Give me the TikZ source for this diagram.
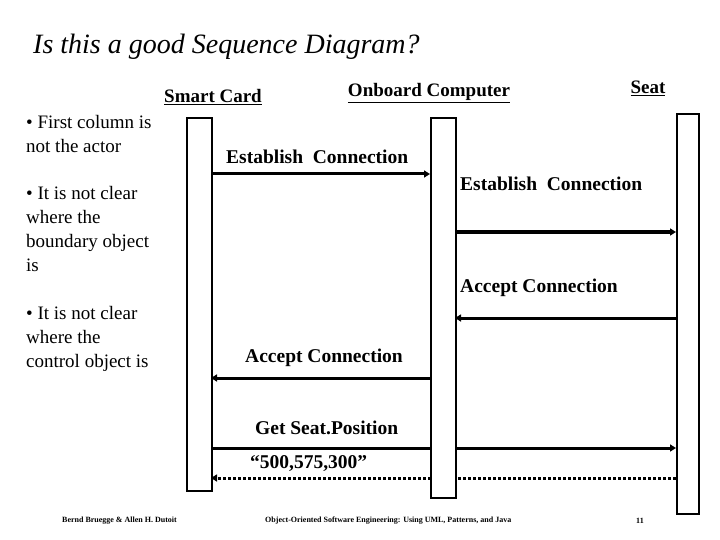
\documentclass[tikz,border=0pt]{standalone}
\usepackage{fontspec}
\setmainfont{Liberation Serif}
\usetikzlibrary{arrows.meta}
\begin{document}
\begin{tikzpicture}[x=1pt,y=-1pt,
  act/.style={draw,line width=1.8pt,fill=white},
  msg/.style={line width=3pt,-{Triangle[length=6pt,width=7pt]}},
  ret/.style={line width=3pt,dotted,-{Triangle[length=6pt,width=7pt]}},
  lab/.style={font=\fontsize{19.5}{22}\selectfont\bfseries,inner sep=0pt},
  head/.style={font=\fontsize{19}{22}\selectfont\bfseries,inner sep=0pt},
  side/.style={font=\fontsize{19}{24}\selectfont,align=left,anchor=north west,inner sep=0pt},
  foot/.style={font=\fontsize{8}{9}\selectfont\bfseries,inner sep=0pt}]
\useasboundingbox (0,0) rectangle (720,540);
\node[font=\fontsize{28}{32}\selectfont\itshape,anchor=west,inner sep=0pt] (title) at (33,47) {Is this a good Sequence Diagram?};
\node[head] (hs) at (213,97) {\underline{Smart Card}};
\node[head] (ho) at (429,93) {\underline{Onboard Computer}};
\node[head] (hseat) at (648,88) {\underline{Seat}};
\node[side] (t1) at (26,115) {\textbullet\ First column is\\not the actor};
\node[side] (t2) at (26,186) {\textbullet\ It is not clear\\where the\\boundary object\\is};
\node[side] (t3) at (26,306) {\textbullet\ It is not clear\\where the\\control object is};
\coordinate (a1) at (211,174); \coordinate (b1) at (430,174);
\coordinate (a2) at (455,232); \coordinate (b2) at (676,232);
\coordinate (a3) at (676,318); \coordinate (b3) at (455,318);
\coordinate (a4) at (430,378); \coordinate (b4) at (211,378);
\coordinate (a5) at (211,448); \coordinate (b5) at (676,448);
\coordinate (a6) at (676,478); \coordinate (b6) at (211,478);
\draw[msg] (a1) -- (b1);
\draw[msg] (a2) -- (b2);
\draw[msg] (a3) -- (b3);
\draw[msg] (a4) -- (b4);
\draw[msg] (a5) -- (b5);
\draw[ret] (a6) -- (b6);
\node[act,minimum width=25pt,minimum height=373pt,anchor=north west] (sc) at (186,117) {};
\node[act,minimum width=25pt,minimum height=380pt,anchor=north west] (ob) at (430,117) {};
\node[act,minimum width=22pt,minimum height=400pt,anchor=north west] (st) at (676,113) {};
\node[lab,anchor=west] (l1) at (226,157) {Establish\ \ Connection};
\node[lab,anchor=west] (l2) at (460,184) {Establish\ \ Connection};
\node[lab,anchor=west] (l3) at (460,288) {Accept Connection};
\node[lab,anchor=west] (l4) at (245,358) {Accept Connection};
\node[lab,anchor=west] (l5) at (255,428) {Get Seat.Position};
\node[lab,anchor=west] (l6) at (250,464) {“500,575,300”};
\node[foot,anchor=west] (f1) at (62,521) {Bernd Bruegge \& Allen H. Dutoit};
\node[foot,anchor=west] (f2) at (265,521) {Object-Oriented Software Engineering: Using UML, Patterns, and Java};
\node[foot,anchor=center] (f3) at (640,521) {11};
\end{tikzpicture}
\end{document}
